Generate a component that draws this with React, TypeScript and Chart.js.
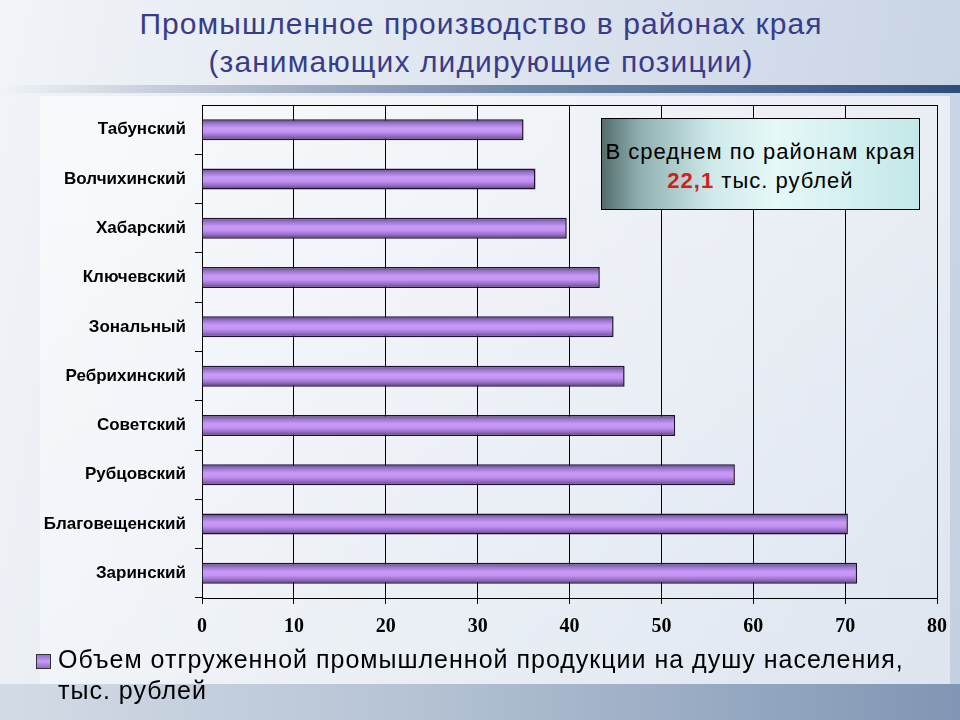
import React, { useEffect, useRef } from 'react';
import { Chart, registerables } from 'chart.js';

Chart.register(...registerables);

// ---------- data ----------
const TITLE_LINES = ['Промышленное производство в районах края', '(занимающих лидирующие позиции)'];
const DISTRICTS = [
  'Табунский',
  'Волчихинский',
  'Хабарский',
  'Ключевский',
  'Зональный',
  'Ребрихинский',
  'Советский',
  'Рубцовский',
  'Благовещенский',
  'Заринский',
];
const OUTPUT_PER_CAPITA = [35.0, 36.3, 39.7, 43.3, 44.8, 46.0, 51.5, 58.0, 70.3, 71.3];
const X_MIN = 0;
const X_MAX = 80;
const X_STEP = 10;
const SERIES_LABEL_LINES = ['Объем отгруженной промышленной продукции на душу населения,', 'тыс. рублей'];
const AVERAGE_TEXT = 'В среднем по районам края';
const AVERAGE_VALUE = '22,1';
const AVERAGE_UNIT = 'тыс. рублей';

// ---------- styles ----------
const BAR_PCT = 0.52;
const CAT_PCT = 0.82;
const BAR_STOPS: [number, string][] = [
  [0, '#5a3f7c'],
  [0.18, '#9572c6'],
  [0.42, '#c99af8'],
  [0.6, '#c493f4'],
  [0.82, '#936ac2'],
  [1, '#553a75'],
];

export default function App() {
  const canvasRef = useRef<HTMLCanvasElement | null>(null);

  useEffect(() => {
    const canvas = canvasRef.current;
    if (!canvas) return;
    const chart = new Chart(canvas, {
      type: 'bar',
      data: {
        labels: DISTRICTS,
        datasets: [
          {
            label: SERIES_LABEL_LINES.join(' '),
            data: OUTPUT_PER_CAPITA,
            barPercentage: BAR_PCT,
            categoryPercentage: CAT_PCT,
            borderColor: '#1c1230',
            borderWidth: 1.5,
            backgroundColor: (ctx: any) => {
              const c = ctx.chart;
              const area = c.chartArea;
              if (!area || ctx.type !== 'data' || !c.scales.y) return '#b68ae6';
              const yc = c.scales.y.getPixelForValue(ctx.dataIndex);
              const half = ((area.bottom - area.top) / DISTRICTS.length) * BAR_PCT * CAT_PCT / 2;
              const g = c.ctx.createLinearGradient(0, yc - half, 0, yc + half);
              BAR_STOPS.forEach(([o, col]) => g.addColorStop(o, col));
              return g;
            },
          },
        ],
      },
      options: {
        indexAxis: 'y',
        responsive: false,
        animation: false,
        devicePixelRatio: 1,
        layout: { padding: { left: 0, right: 23, top: 105, bottom: 82 } },
        plugins: {
          legend: { display: false },
          title: { display: false },
          tooltip: { enabled: false },
        },
        scales: {
          x: {
            type: 'linear',
            position: 'bottom',
            min: X_MIN,
            max: X_MAX,
            ticks: {
              stepSize: X_STEP,
              color: '#000',
              padding: 11,
              font: { family: '"Liberation Serif", "DejaVu Serif", serif', weight: 'bold', size: 20 },
            },
            grid: { color: '#000', lineWidth: 1, tickLength: 6 },
            border: { display: true, color: '#000', width: 1 },
            afterFit: (s: any) => {
              s.height = 40;
            },
          },
          y: {
            type: 'category',
            grid: {
              offset: true,
              drawOnChartArea: true,
              color: (c: any) => (c.index === 0 ? '#000' : 'rgba(0,0,0,0)'),
              tickColor: (c: any) => (c.index === 0 ? 'rgba(0,0,0,0)' : '#000'),
              tickLength: 7,
              lineWidth: 1,
            },
            border: { display: true, color: '#000', width: 1 },
            ticks: {
              color: '#000',
              padding: 9,
              font: { family: '"Liberation Sans", Arial, sans-serif', weight: 'bold', size: 17 },
            },
            afterFit: (s: any) => {
              s.width = 202;
            },
          },
        },
      },
    } as any);
    return () => chart.destroy();
  }, []);

  return (
    <div
      style={{
        position: 'absolute',
        left: 0,
        top: 0,
        width: 960,
        height: 720,
        overflow: 'hidden',
        background:
          'linear-gradient(100deg, #f1f4f8 0%, #e3e9f1 35%, #d3dcea 70%, #c4d0e1 100%)',
        fontFamily: '"Liberation Sans", Arial, sans-serif',
      }}
    >
      {/* dark band under title */}
      <div
        style={{
          position: 'absolute',
          left: 0,
          top: 85,
          width: 960,
          height: 8,
          background:
            'linear-gradient(90deg, rgba(60,80,120,0) 0%, rgba(60,80,120,0.25) 20%, #6f86a8 55%, #2f4c7a 100%)',
        }}
      />
      {/* light panel */}
      <div
        style={{
          position: 'absolute',
          left: 40,
          top: 96,
          width: 910,
          height: 588,
          background: 'linear-gradient(180deg, rgba(255,255,255,0.6), rgba(246,249,252,0.5))',
        }}
      />
      {/* lower band */}
      <div
        style={{
          position: 'absolute',
          left: 0,
          top: 684,
          width: 960,
          height: 36,
          background: 'linear-gradient(90deg, #d3dbe6 0%, #b8c5d6 40%, #8096b4 100%)',
        }}
      />
      <div
        style={{
          position: 'absolute',
          left: 0,
          top: 5,
          width: 962,
          textAlign: 'center',
          color: '#383c8a',
          fontSize: 30,
          lineHeight: '38px',
          letterSpacing: 1.1,
        }}
      >
        {TITLE_LINES.map((t, i) => (
          <div key={i}>{t}</div>
        ))}
      </div>
      <canvas
        ref={canvasRef}
        width={960}
        height={720}
        style={{ position: 'absolute', left: 0, top: 0, width: 960, height: 720, display: 'block' }}
      />
      {/* average annotation */}
      <div
        style={{
          position: 'absolute',
          left: 601,
          top: 118,
          width: 319,
          height: 92,
          boxSizing: 'border-box',
          border: '1px solid #000',
          background:
            'linear-gradient(90deg, #546c6c 0%, #8fb0b0 12%, #cfeaea 35%, #e6f8f8 55%, #d2efef 80%, #c4e8e8 100%)',
          textAlign: 'center',
          fontSize: 22,
          lineHeight: '29px',
          letterSpacing: 1,
          paddingTop: 18,
          color: '#000',
        }}
      >
        <div>{AVERAGE_TEXT}</div>
        <div>
          <span style={{ color: '#d02020', fontWeight: 'bold' }}>{AVERAGE_VALUE}</span> {AVERAGE_UNIT}
        </div>
      </div>
      {/* legend */}
      <div
        style={{
          position: 'absolute',
          left: 36,
          top: 654,
          width: 13,
          height: 13,
          border: '1px solid #333',
          background: 'linear-gradient(180deg, #9572c6, #c99af8 50%, #936ac2)',
        }}
      />
      <div
        style={{
          position: 'absolute',
          left: 58,
          top: 644,
          fontSize: 25,
          lineHeight: '31px',
          letterSpacing: 1,
          color: '#000',
          whiteSpace: 'nowrap',
        }}
      >
        {SERIES_LABEL_LINES.map((t, i) => (
          <div key={i}>{t}</div>
        ))}
      </div>
    </div>
  );
}
